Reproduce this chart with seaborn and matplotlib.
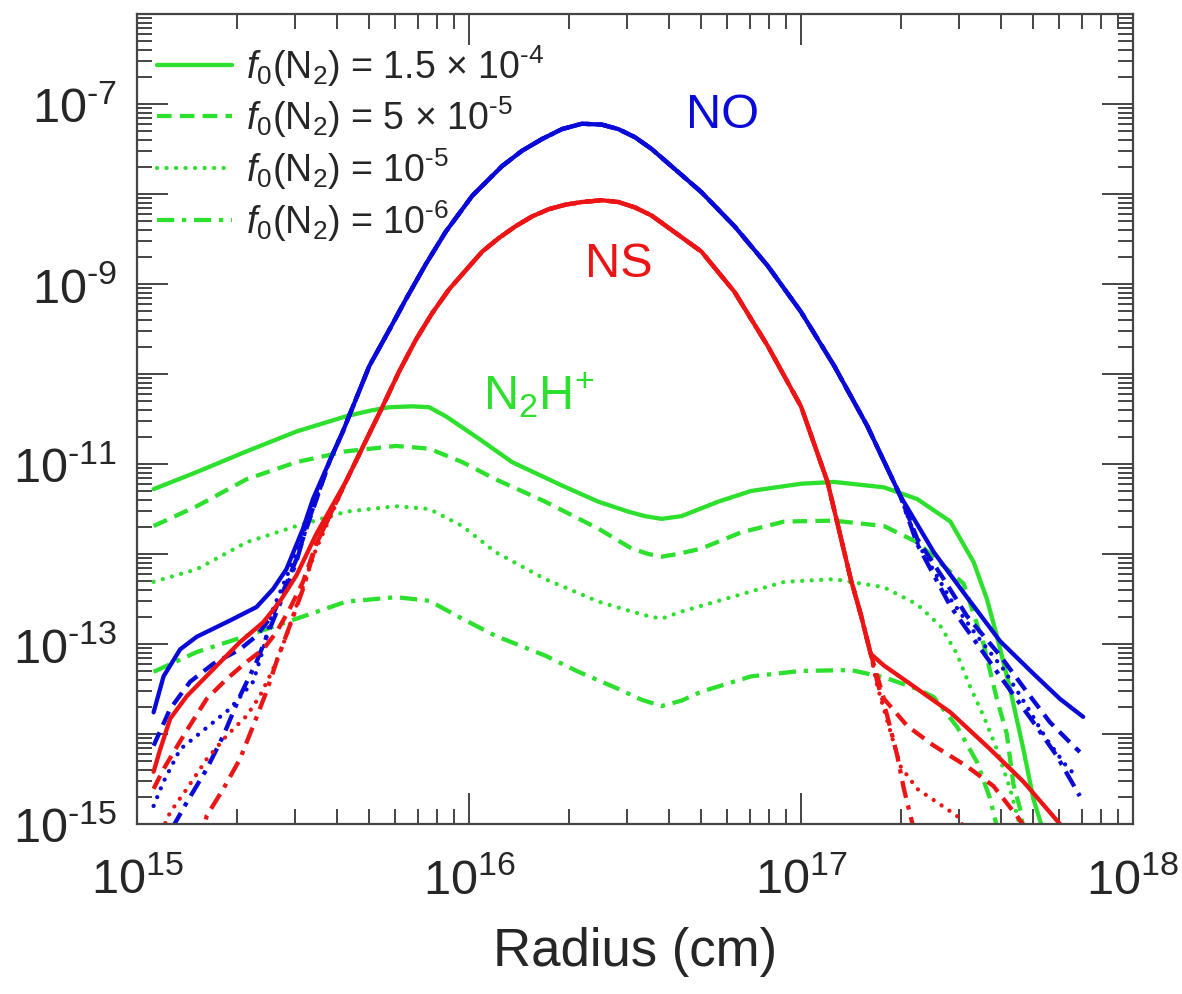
import numpy as np
import pandas as pd
import matplotlib
matplotlib.use("Agg")
import matplotlib.pyplot as plt
from matplotlib.lines import Line2D
from matplotlib.ticker import FixedLocator, LogLocator, FuncFormatter, NullFormatter
import seaborn as sns

# values: log10(radius / cm) and log10(fractional abundance)

# NO: part shared by all four N2 cases, then the tails that differ
NO_MID_X = [15.58, 15.62, 15.70, 15.76, 15.81, 15.87, 15.93, 16.01, 16.10, 16.16, 16.22,
            16.28, 16.34, 16.40, 16.45, 16.50, 16.55, 16.70, 16.80, 16.90, 17.00, 17.10,
            17.20, 17.30]
NO_MID_Y = [-10.97, -10.64, -9.91, -9.51, -9.17, -8.78, -8.42, -8.02, -7.69, -7.52, -7.39,
            -7.28, -7.22, -7.23, -7.28, -7.37, -7.50, -7.98, -8.36, -8.80, -9.31, -9.91,
            -10.58, -11.36]
NO_A_LX = [15.05, 15.08, 15.13, 15.18, 15.28, 15.36, 15.41, 15.45, 15.50, 15.53]
NO_A_LY = [-13.76, -13.36, -13.06, -12.92, -12.74, -12.59, -12.39, -12.17, -11.72, -11.39]
NO_A_RX = [17.40, 17.50, 17.60, 17.70, 17.78, 17.85]
NO_A_RY = [-11.98, -12.48, -12.97, -13.33, -13.61, -13.81]
NO_B_LX = [15.05, 15.10, 15.16, 15.23, 15.31, 15.36, 15.41, 15.45, 15.48, 15.50]
NO_B_LY = [-14.13, -13.72, -13.42, -13.22, -13.06, -12.91, -12.67, -12.33, -12.06, -11.83]
NO_B_RX = [17.35, 17.43, 17.50, 17.60, 17.68, 17.75, 17.82, 17.84]
NO_B_RY = [-11.83, -12.28, -12.69, -13.13, -13.53, -13.87, -14.13, -14.20]
NO_C_LX = [15.05, 15.08, 15.13, 15.18, 15.23, 15.28, 15.35, 15.38, 15.41, 15.46, 15.50]
NO_C_LY = [-14.80, -14.53, -14.17, -14.02, -13.87, -13.72, -13.42, -13.06, -12.61, -12.17, -11.78]
NO_C_RX = [17.35, 17.45, 17.53, 17.61, 17.68, 17.74, 17.80, 17.83]
NO_C_RY = [-11.87, -12.50, -12.91, -13.28, -13.69, -14.06, -14.36, -14.47]
NO_D_LX = [15.05, 15.11, 15.15, 15.21, 15.26, 15.31, 15.36, 15.40, 15.44, 15.48, 15.51]
NO_D_LY = [-15.40, -15.02, -14.76, -14.39, -14.02, -13.58, -13.20, -12.83, -12.47, -12.09, -11.70]
NO_D_RX = [17.35, 17.45, 17.60, 17.70, 17.77, 17.84]
NO_D_RY = [-11.89, -12.58, -13.36, -13.87, -14.24, -14.69]

# NS
NS_MID_X = [15.63, 15.74, 15.79, 15.84, 15.89, 15.94, 16.04, 16.09, 16.14, 16.19, 16.24,
            16.29, 16.34, 16.40, 16.45, 16.50, 16.55, 16.70, 16.80, 16.90, 17.00, 17.08,
            17.15, 17.18, 17.21]
NS_MID_Y = [-11.19, -10.36, -9.97, -9.62, -9.32, -9.06, -8.64, -8.49, -8.36, -8.25, -8.17,
            -8.12, -8.09, -8.07, -8.09, -8.15, -8.24, -8.64, -9.09, -9.69, -10.36, -11.20,
            -12.28, -12.67, -13.11]
NS_A_LX = [15.05, 15.07, 15.10, 15.15, 15.23, 15.31, 15.38, 15.43, 15.48, 15.54]
NS_A_LY = [-14.42, -14.17, -13.83, -13.58, -13.28, -12.98, -12.76, -12.53, -12.24, -11.78]
NS_A_RX = [17.25, 17.32, 17.45, 17.57, 17.67, 17.78, 17.83]
NS_A_RY = [-13.24, -13.42, -13.76, -14.17, -14.53, -15.00, -15.19]
NS_B_LX = [15.05, 15.08, 15.14, 15.21, 15.27, 15.33, 15.38, 15.42, 15.46, 15.50, 15.54]
NS_B_LY = [-14.61, -14.39, -14.02, -13.61, -13.39, -13.20, -13.06, -12.87, -12.61, -12.31, -11.89]
NS_B_RX = [17.25, 17.32, 17.40, 17.50, 17.58, 17.65, 17.68]
NS_B_RY = [-13.61, -13.91, -14.13, -14.36, -14.58, -14.91, -15.06]
NS_C_LX = [15.05, 15.10, 15.15, 15.21, 15.27, 15.33, 15.37, 15.41, 15.45, 15.49, 15.54]
NS_C_LY = [-15.28, -14.87, -14.61, -14.28, -14.02, -13.80, -13.58, -13.28, -12.91, -12.47, -11.94]
NS_C_RX = [17.23, 17.27, 17.30, 17.35, 17.41, 17.47, 17.49]
NS_C_RY = [-13.47, -13.98, -14.36, -14.61, -14.76, -14.91, -15.03]
NS_D_LX = [15.19, 15.21, 15.26, 15.31, 15.35, 15.39, 15.42, 15.46, 15.50, 15.54]
NS_D_LY = [-15.22, -14.91, -14.61, -14.28, -13.91, -13.53, -13.20, -12.80, -12.39, -11.89]
NS_D_RX = [17.23, 17.26, 17.29, 17.31, 17.33, 17.34]
NS_D_RY = [-13.42, -13.80, -14.24, -14.61, -14.91, -15.06]

# N2H+
N2H_A_X = [15.05, 15.18, 15.33, 15.48, 15.63, 15.70, 15.76, 15.83, 15.88, 15.93, 16.03,
           16.13, 16.28, 16.39, 16.48, 16.53, 16.58, 16.64, 16.75, 16.85, 17.00, 17.10,
           17.25, 17.35, 17.45, 17.52, 17.56, 17.59, 17.63, 17.67, 17.70, 17.73]
N2H_A_Y = [-11.28, -11.09, -10.86, -10.64, -10.47, -10.41, -10.37, -10.36, -10.37, -10.47,
           -10.72, -10.98, -11.24, -11.42, -11.53, -11.58, -11.61, -11.58, -11.42, -11.30,
           -11.22, -11.20, -11.26, -11.39, -11.64, -12.09, -12.50, -12.91, -13.50, -14.17,
           -14.72, -15.08]
N2H_B_X = [15.05, 15.18, 15.33, 15.48, 15.63, 15.78, 15.88, 15.98, 16.08, 16.23, 16.39,
           16.49, 16.54, 16.58, 16.63, 16.70, 16.82, 16.95, 17.10, 17.25, 17.35, 17.45,
           17.49, 17.55, 17.59, 17.62, 17.64, 17.66, 17.67]
N2H_B_Y = [-11.69, -11.47, -11.17, -10.98, -10.86, -10.80, -10.83, -10.98, -11.17, -11.42,
           -11.72, -11.94, -12.00, -12.03, -12.00, -11.94, -11.76, -11.64, -11.63, -11.69,
           -11.87, -12.20, -12.33, -13.00, -13.61, -14.00, -14.56, -14.83, -15.06]
N2H_C_X = [15.05, 15.18, 15.33, 15.48, 15.63, 15.78, 15.88, 15.98, 16.08, 16.23, 16.39,
           16.49, 16.54, 16.58, 16.64, 16.80, 16.95, 17.10, 17.25, 17.35, 17.42, 17.47,
           17.51, 17.55, 17.59, 17.63, 17.66]
N2H_C_Y = [-12.31, -12.17, -11.87, -11.69, -11.53, -11.47, -11.50, -11.69, -11.98, -12.28,
           -12.53, -12.64, -12.69, -12.72, -12.64, -12.47, -12.31, -12.28, -12.37, -12.56,
           -12.80, -13.11, -13.48, -13.80, -14.17, -14.61, -15.03]
N2H_D_X = [15.05, 15.18, 15.33, 15.48, 15.63, 15.78, 15.88, 15.98, 16.08, 16.23, 16.33,
           16.45, 16.52, 16.58, 16.64, 16.70, 16.85, 17.00, 17.15, 17.25, 17.35, 17.40,
           17.47, 17.53, 17.57, 17.59]
N2H_D_Y = [-13.31, -13.09, -12.91, -12.72, -12.53, -12.48, -12.52, -12.72, -12.91, -13.13,
           -13.31, -13.50, -13.62, -13.69, -13.63, -13.53, -13.36, -13.30, -13.29, -13.37,
           -13.50, -13.59, -13.92, -14.31, -14.72, -15.03]

CASE_LABELS = [r"$f_0$(N$_2$) = 1.5 $\times$ 10$^{\text{-}4}$",
               r"$f_0$(N$_2$) = 5 $\times$ 10$^{\text{-}5}$",
               r"$f_0$(N$_2$) = 10$^{\text{-}5}$",
               r"$f_0$(N$_2$) = 10$^{\text{-}6}$"]

GREEN = "#2ee02e"
BLUE = "#0a0ad8"
RED = "#ec1414"
LW = 3.1
STYLES = ["-", (0, (3.4, 1.9)), (0, (0.01, 2.2)), (0, (4, 1.8, 1, 1.8))]
CAPS = ["butt", "butt", "round", "butt"]

sns.set_style("ticks")
plt.rcParams["font.family"] = ["Liberation Sans", "DejaVu Sans"]
plt.rcParams["mathtext.fontset"] = "custom"
plt.rcParams["mathtext.rm"] = "Liberation Sans"
plt.rcParams["mathtext.it"] = "Liberation Sans:italic"
plt.rcParams["mathtext.bf"] = "Liberation Sans:bold"

fig = plt.figure(figsize=(11.82, 9.95), dpi=100)
ax = fig.add_axes([0.1159, 0.1709, 0.8426, 0.8141])
ax.set_xscale("log")
ax.set_yscale("log")


def draw(lx, ly, color, k):
    df = pd.DataFrame({"r": 10.0 ** np.array(lx), "f": 10.0 ** np.array(ly)})
    sns.lineplot(data=df, x="r", y="f", ax=ax, color=color, linestyle=STYLES[k],
                 lw=LW, estimator=None, sort=False, dash_capstyle=CAPS[k],
                 solid_joinstyle="round", dash_joinstyle="round")


n2h = [(N2H_A_X, N2H_A_Y), (N2H_B_X, N2H_B_Y), (N2H_C_X, N2H_C_Y), (N2H_D_X, N2H_D_Y)]
for k, (x, y) in enumerate(n2h):
    draw(x, y, GREEN, k)

no_tails = [(NO_A_LX, NO_A_LY, NO_A_RX, NO_A_RY), (NO_B_LX, NO_B_LY, NO_B_RX, NO_B_RY),
            (NO_C_LX, NO_C_LY, NO_C_RX, NO_C_RY), (NO_D_LX, NO_D_LY, NO_D_RX, NO_D_RY)]
for k in [3, 2, 1, 0]:
    lx, ly, rx, ry = no_tails[k]
    draw(lx + NO_MID_X + rx, ly + NO_MID_Y + ry, BLUE, k)

ns_tails = [(NS_A_LX, NS_A_LY, NS_A_RX, NS_A_RY), (NS_B_LX, NS_B_LY, NS_B_RX, NS_B_RY),
            (NS_C_LX, NS_C_LY, NS_C_RX, NS_C_RY), (NS_D_LX, NS_D_LY, NS_D_RX, NS_D_RY)]
for k in [3, 2, 1, 0]:
    lx, ly, rx, ry = ns_tails[k]
    draw(lx + NS_MID_X + rx, ly + NS_MID_Y + ry, RED, k)

ax.set_xlim(1e15, 1e18)
ax.set_ylim(1e-15, 1e-6)

ax.xaxis.set_major_locator(FixedLocator(10.0 ** np.arange(15, 19)))
ax.xaxis.set_minor_locator(LogLocator(base=10, subs=np.arange(2, 10), numticks=20))
ax.xaxis.set_minor_formatter(NullFormatter())
ax.xaxis.set_major_formatter(FuncFormatter(
    lambda v, p: r"$\mathregular{10^{%d}}$" % int(round(np.log10(v)))))

ax.yaxis.set_major_locator(FixedLocator(10.0 ** np.arange(-15, -5)))
ax.yaxis.set_minor_locator(LogLocator(base=10, subs=np.arange(2, 10), numticks=20))
ax.yaxis.set_minor_formatter(NullFormatter())


def ylab(v, p):
    e = int(round(np.log10(v)))
    if e % 2 == 0:
        return ""
    return r"$\mathregular{10^{\text{-}%d}}$" % abs(e)


ax.yaxis.set_major_formatter(FuncFormatter(ylab))

ax.tick_params(which="both", direction="in", top=True, right=True, width=1.4,
               color="#444444", labelsize=35)
ax.tick_params(which="major", length=22)
ax.tick_params(which="minor", length=11)
ax.tick_params(axis="x", which="major", pad=24)
ax.tick_params(axis="y", which="major", pad=14)
for s in ax.spines.values():
    s.set_linewidth(1.6)
    s.set_color("#444444")

ax.set_xlabel("Radius (cm)", fontsize=38, labelpad=16)
ax.set_ylabel("")

ax.text(10 ** 16.765, 10 ** -7.256, "NO", color=BLUE, fontsize=35, ha="center", va="baseline")
ax.text(10 ** 16.452, 10 ** -8.911, "NS", color=RED, fontsize=35, ha="center", va="baseline")
ax.text(10 ** 16.042, 10 ** -10.39, r"N$_2$H$^{\text{+}}$", color=GREEN, fontsize=35,
        ha="left", va="baseline")

handles = [Line2D([], [], color=GREEN, lw=LW, linestyle=STYLES[k], dash_capstyle=CAPS[k])
           for k in range(4)]
ax.legend(handles, CASE_LABELS, loc="upper left", bbox_to_anchor=(0.02, 0.965),
          frameon=False, fontsize=27, borderaxespad=0, borderpad=0,
          handlelength=2.0, handletextpad=0.37, labelspacing=0.16)

fig.savefig("out.png", dpi=100)
